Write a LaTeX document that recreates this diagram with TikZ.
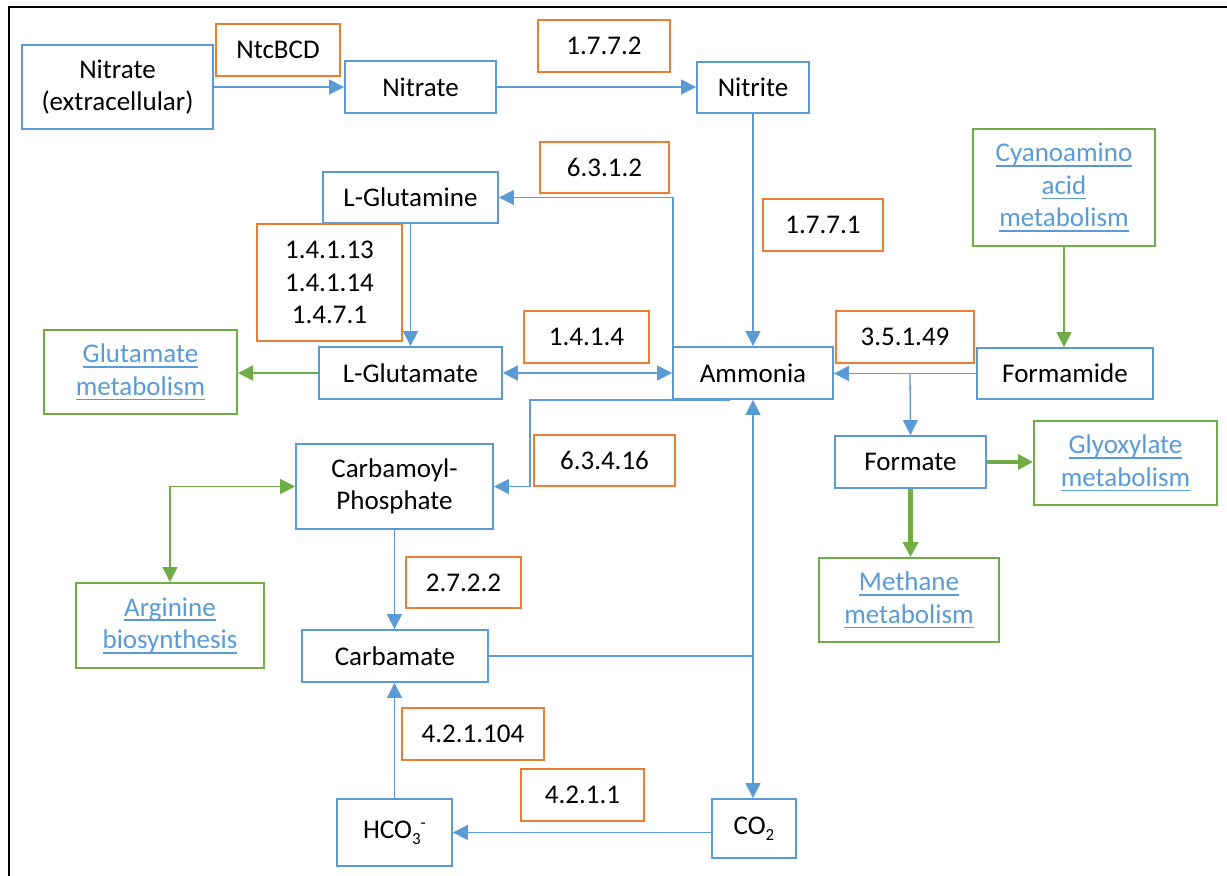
\documentclass[tikz,border=0pt]{standalone}
\usepackage{fontspec}
\setmainfont{Carlito}
\usetikzlibrary{arrows.meta,calc}
\definecolor{cblue}{HTML}{5B9BD5}
\definecolor{corange}{HTML}{ED7D31}
\definecolor{cgreen}{HTML}{70AD47}
\definecolor{clink}{HTML}{5B9BD5}
\newcommand\lnk[1]{\setbox0=\hbox{#1}\rlap{\rule[-5pt]{\wd0}{1.6pt}}\box0}
\newcommand\lsub[1]{\raisebox{-6pt}{\fontsize{17}{20}\selectfont #1}}
\begin{document}
\begin{tikzpicture}[x=1pt,y=-1pt,
  every node/.style={font=\fontsize{27}{32.5}\selectfont, align=center, inner sep=0pt},
  wh/.style 2 args={minimum width=#1pt, minimum height=#2pt},
  bbox/.style={draw=cblue, line width=1.8pt, text=black},
  obox/.style={draw=corange, line width=2pt, text=black},
  gbox/.style={draw=cgreen, line width=2pt, text=clink},
  arr/.style={draw=cblue, line width=1.3pt, -{Triangle[length=15pt,width=15pt]}},
  arrb/.style={draw=cblue, line width=1.3pt, {Triangle[length=15pt,width=15pt]}-{Triangle[length=15pt,width=15pt]}},
  ln/.style={draw=cblue, line width=1.3pt},
  garr/.style={draw=cgreen, line width=1.5pt, -{Triangle[length=15pt,width=15pt]}},
  garrb/.style={draw=cgreen, line width=1.5pt, {Triangle[length=15pt,width=15pt]}-{Triangle[length=15pt,width=15pt]}},
  tarr/.style={draw=cgreen, line width=4.5pt, -{Triangle[length=15pt,width=15pt]}}
]
\useasboundingbox (0,0) rectangle (1227,876);
\fill[white] (0,0) rectangle (1227,876);
\draw[line width=2.8pt] (9,880) -- (9,7) -- (1230,7);

% nodes
\node[bbox, wh={191}{84}] (nx) at (117.5,87) {Nitrate\\(extracellular)};
\node[obox, wh={124}{52}] (ntc) at (278,50) {NtcBCD};
\node[bbox, wh={151}{52}] (nitrate) at (420.5,87) {Nitrate};
\node[obox, wh={132}{52}] (e1772) at (604,46) {1.7.7.2};
\node[bbox, wh={112}{51}] (nitrite) at (753,87.5) {Nitrite};
\node[obox, wh={129}{51}] (e6312) at (604.5,167.5) {6.3.1.2};
\node[bbox, wh={175}{51}] (glnn) at (410.5,197.5) {L-Glutamine};
\node[obox, wh={145}{117}] (e14) at (329.5,282.5) {1.4.1.13\\1.4.1.14\\1.4.7.1};
\node[bbox, wh={183}{52}] (glu) at (410.5,373) {L-Glutamate};
\node[gbox, wh={193}{84}] (glum) at (140.5,372) {\lnk{Glutamate}\\\lnk{metabolism}};
\node[obox, wh={125}{52}] (e1414) at (586.5,337) {1.4.1.4};
\node[bbox, wh={160}{52}] (amm) at (753,373) {Ammonia};
\node[obox, wh={120}{52}] (e1771) at (823,225) {1.7.7.1};
\node[obox, wh={138}{52}] (e35149) at (905,337) {3.5.1.49};
\node[bbox, wh={176}{51}] (fmd) at (1065,373.5) {Formamide};
\node[gbox, wh={182}{117}] (cyano) at (1064,187.5) {\lnk{Cyanoamino}\\\lnk{acid}\\\lnk{metabolism}};
\node[bbox, wh={151}{52}] (fmt) at (910.5,462) {Formate};
\node[gbox, wh={183}{84}] (glyox) at (1125.5,463) {\lnk{Glyoxylate}\\\lnk{metabolism}};
\node[gbox, wh={180}{84}] (meth) at (909,600) {\lnk{Methane}\\\lnk{metabolism}};
\node[obox, wh={141}{51}] (e63416) at (604.5,460.5) {6.3.4.16};
\node[bbox, wh={197}{85}] (cp) at (394.5,486.5) {Carbamoyl-\\Phosphate};
\node[gbox, wh={188}{85}] (arg) at (170,625.5) {\lnk{Arginine}\\\lnk{biosynthesis}};
\node[obox, wh={115}{51}] (e2722) at (463.5,582.5) {2.7.2.2};
\node[bbox, wh={186}{52}] (cbm) at (395,656) {Carbamate};
\node[obox, wh={142}{52}] (e42104) at (473,734) {4.2.1.104};
\node[obox, wh={123}{52}] (e4211) at (582.5,795) {4.2.1.1};
\node[bbox, wh={115}{67}] (hco) at (394.5,832.5) {HCO\lsub{3}\raisebox{10pt}{\fontsize{17}{20}\selectfont -}};
\node[bbox, wh={84}{59}] (co2) at (754,828.5) {CO\lsub{2}};

\coordinate (br) at (910,373.5);
\coordinate (ammcp) at (730,400);

% connectors
\draw[arr] (nx.east) -- (nitrate.west);
\draw[arr] (nitrate.east) -- (nitrite.west |- nitrate.east);
\draw[arr] (nitrite.south) -- (amm.north);
\draw[arr] ([xshift=1pt]amm.north west) |- (glnn.east);
\draw[arr] (glnn.south) -- (glu.north);
\draw[arrb] (glu.east) -- (amm.west);
\draw[garr] (glu.west) -- (glum.east |- glu.west);
\draw[arr] (fmd.west) -- (amm.east |- fmd.west);
\draw[arr] (br) -- (fmt.north);
\draw[garr] (cyano.south) -- (cyano.south |- fmd.north);
\draw[tarr] (fmt.east) -- (glyox.west |- fmt.east);
\draw[tarr] (fmt.south) -- (fmt.south |- meth.north);
\draw[arr] (ammcp) -| ([xshift=36pt]cp.east) -- (cp.east);
\draw[arrb] (amm.south) -- (amm.south |- co2.north);
\draw[ln] (cbm.east) -- (cbm.east -| amm.south);
\draw[arr] (cp.south) -- (cp.south |- cbm.north);
\draw[arr] (hco.north) -- (hco.north |- cbm.south);
\draw[arr] (co2.west |- hco.east) -- (hco.east);
\draw[garrb] (arg.north) |- (cp.west);
\end{tikzpicture}
\end{document}
